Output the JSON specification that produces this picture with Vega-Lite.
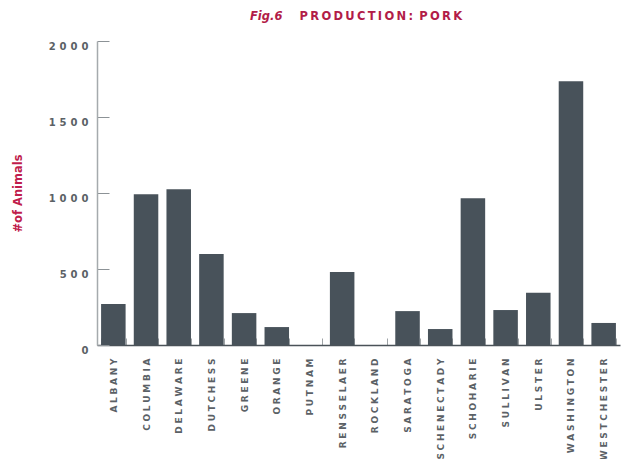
{
  "$schema": "https://vega.github.io/schema/vega-lite/v6.json",
  "width": 523,
  "height": 304,
  "autosize": {"type": "none"},
  "padding": {"left": 97, "top": 41, "right": 3, "bottom": 114},
  "background": "white",
  "title": {
    "text": "Fig.6",
    "subtitle": "\u2800\u2800\u2800\u2800\u2800\u2009\u2009P\u2009R\u2009O\u2009D\u2009U\u2009C\u2009T\u2009I\u2009O\u2009N\u2009:\u2009 P\u2009O\u2009R\u2009K",
    "anchor": "start",
    "frame": "group",
    "dx": 153,
    "offset": 18,
    "font": "DejaVu Sans",
    "fontSize": 11.5,
    "fontStyle": "italic",
    "fontWeight": "bold",
    "color": "#b21c48",
    "subtitleFont": "DejaVu Sans",
    "subtitleFontSize": 11.5,
    "subtitleFontWeight": "bold",
    "subtitleColor": "#b21c48",
    "subtitlePadding": -11.5
  },
  "data": {
    "values": [
      {"county": "ALBANY", "animals": 270},
      {"county": "COLUMBIA", "animals": 992},
      {"county": "DELAWARE", "animals": 1025},
      {"county": "DUTCHESS", "animals": 598},
      {"county": "GREENE", "animals": 210},
      {"county": "ORANGE", "animals": 118},
      {"county": "PUTNAM", "animals": 0},
      {"county": "RENSSELAER", "animals": 480},
      {"county": "ROCKLAND", "animals": 0},
      {"county": "SARATOGA", "animals": 223},
      {"county": "SCHENECTADY", "animals": 105},
      {"county": "SCHOHARIE", "animals": 966},
      {"county": "SULLIVAN", "animals": 230},
      {"county": "ULSTER", "animals": 344},
      {"county": "WASHINGTON", "animals": 1735},
      {"county": "WESTCHESTER", "animals": 145}
    ]
  },
  "mark": {"type": "bar", "color": "#48525a"},
  "encoding": {
    "x": {
      "field": "county",
      "type": "nominal",
      "sort": null,
      "scale": {"paddingInner": 0.25, "paddingOuter": 0.125},
      "axis": {
        "title": null,
        "labelAngle": -90,
        "labelAlign": "right",
        "labelBaseline": "middle",
        "labelFont": "DejaVu Sans",
        "labelFontSize": 9,
        "labelFontWeight": "bold",
        "labelColor": "#5b6166",
        "labelPadding": 20,
        "labelExpr": "join(split(datum.label, ''), '\u2009\u200a')",
        "tickBand": "extent",
        "tickSize": -7,
        "tickColor": "#9ea3a6",
        "domainColor": "#4a5258",
        "domainWidth": 1.5
      }
    },
    "y": {
      "field": "animals",
      "type": "quantitative",
      "scale": {"domain": [0, 2000]},
      "axis": {
        "title": "#of Animals",
        "titleColor": "#bf1d4c",
        "titleFont": "DejaVu Sans",
        "titleFontSize": 11.5,
        "titleFontWeight": "bold",
        "titleX": -79,
        "titleY": 152,
        "titleBaseline": "middle",
        "values": [0, 500, 1000, 1500, 2000],
        "format": "d",
        "grid": false,
        "tickSize": -12,
        "tickColor": "#8c9296",
        "domainColor": "#a5aaad",
        "domainWidth": 1.5,
        "labelFont": "DejaVu Sans",
        "labelFontSize": 10,
        "labelFontWeight": "bold",
        "labelColor": "#5b6166",
        "labelPadding": 21,
        "labelOffset": 5,
        "labelExpr": "join(split(datum.label, ''), '\u2009\u2009')"
      }
    }
  },
  "config": {"view": {"stroke": null}}
}
